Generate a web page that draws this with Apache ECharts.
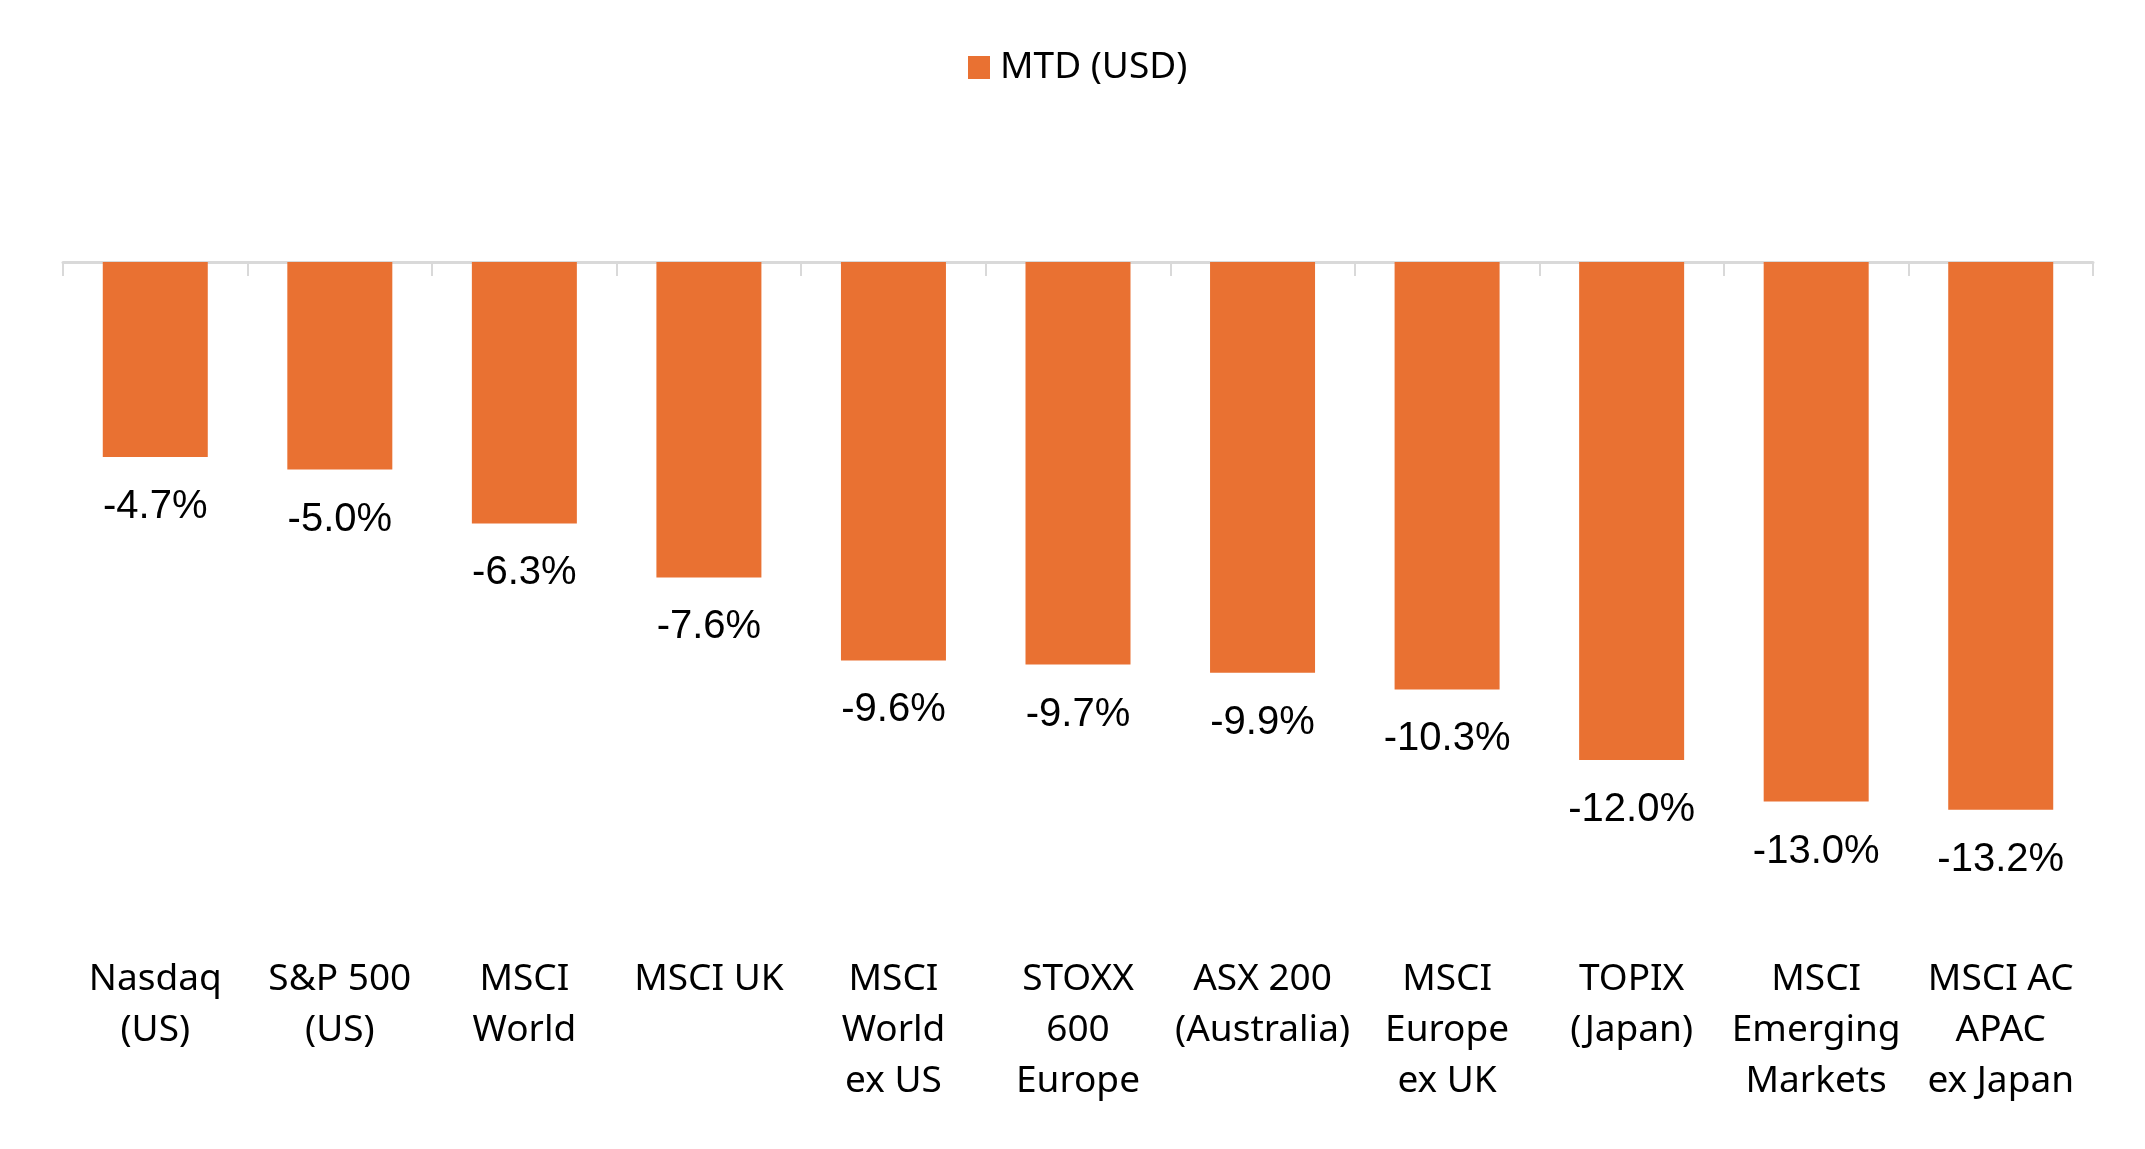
<!DOCTYPE html>
<html><head><meta charset="utf-8">
<style>html,body{margin:0;padding:0;background:#fff}#c{width:2145px;height:1149px}</style>
<script src="https://cdn.jsdelivr.net/npm/echarts@6/dist/echarts.min.js"></script>
</head><body><div id="c"></div>
<script>
const categories = ["Nasdaq\n(US)","S&P 500\n(US)","MSCI\nWorld","MSCI UK","MSCI\nWorld\nex US","STOXX\n600\nEurope","ASX 200\n(Australia)","MSCI\nEurope\nex UK","TOPIX\n(Japan)","MSCI\nEmerging\nMarkets","MSCI AC\nAPAC\nex Japan"];
const mtdUsd = [-4.7,-5.0,-6.3,-7.6,-9.6,-9.7,-9.9,-10.3,-12.0,-13.0,-13.2];
const seriesName = "MTD (USD)";

const chart = echarts.init(document.getElementById('c'), null, {renderer:'canvas'});
chart.setOption({
  backgroundColor:'#fff',
  animation:false,
  legend:{
    data:[seriesName], top:44, left:963,
    icon:'rect', itemWidth:22, itemHeight:23, itemGap:10,
    textStyle:{fontFamily:'Noto Sans', fontSize:37, color:'#000', padding:[0,0,0,5]}
  },
  grid:{left:63, right:52, top:262, bottom:223},
  xAxis:[{
    type:'category', data:categories, position:'bottom',
    axisLine:{show:false, onZero:false}, axisTick:{show:false},
    axisLabel:{interval:0, margin:28, fontFamily:'Noto Sans', fontSize:37, lineHeight:51, color:'#000', align:'center'}
  },{
    type:'category', data:categories, position:'bottom',
    axisLine:{show:true, onZero:true, lineStyle:{color:'#d9d9d9', width:3}},
    axisTick:{show:true, length:14, lineStyle:{color:'#d9d9d9', width:2}},
    axisLabel:{show:false}
  }],
  yAxis:{type:'value', min:-16, max:0, show:false, splitLine:{show:false}},
  series:[{
    name:seriesName, type:'bar', data:mtdUsd, barWidth:105,
    itemStyle:{color:'#E97132'},
    label:{show:true, position:'bottom', distance:30, fontFamily:'Liberation Sans', fontSize:40, color:'#000',
      formatter:p=>p.value.toFixed(1)+'%'}
  }]
});
</script></body></html>
